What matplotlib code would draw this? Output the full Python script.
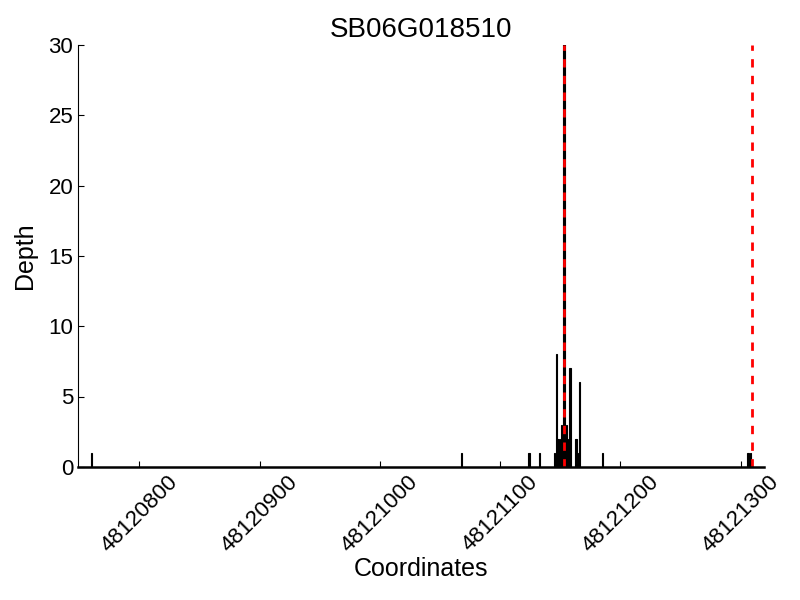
import matplotlib
matplotlib.use("Agg")
import matplotlib.pyplot as plt

gene = "SB06G018510"

positions = [48120760, 48121068, 48121124, 48121133, 48121145, 48121147,
             48121148, 48121150, 48121151, 48121153, 48121155, 48121156,
             48121158, 48121163, 48121164, 48121166, 48121185, 48121306,
             48121308]
depths = [1, 1, 1, 1, 1, 8, 2, 2, 3, 40, 3, 2, 7, 2, 1, 6, 1, 1, 1]

marks = [48121153, 48121309]
xlim = (48120749, 48121319)
ylim = (0, 30)

plt.rcParams['font.family'] = ['Liberation Sans', 'DejaVu Sans']

fig = plt.figure(figsize=(8, 6), dpi=100)
ax = fig.add_axes([0.0975, 0.222, 0.857, 0.703])

ax.bar(positions, depths, width=1, color='k', edgecolor='k', linewidth=0.8)
for m in marks:
    ax.axvline(m, color='red', linestyle='--', linewidth=2, dashes=(3, 3))

ax.set_xlim(*xlim)
ax.set_ylim(*ylim)
ax.set_yticks(range(0, 31, 5))
ax.set_xticks([48120800, 48120900, 48121000, 48121100, 48121200, 48121300])
ax.get_xaxis().get_major_formatter().set_useOffset(False)
ax.get_xaxis().get_major_formatter().set_scientific(False)

ax.spines['top'].set_visible(False)
ax.spines['right'].set_visible(False)
ax.spines['bottom'].set_linewidth(1.8)
ax.tick_params(direction='in', length=4, labelsize=16, top=False, right=False)
plt.setp(ax.get_xticklabels(), rotation=45)

ax.set_xlabel('Coordinates', fontsize=18, labelpad=0)
ax.set_ylabel('Depth', fontsize=18, labelpad=8)
ax.set_title(gene, fontsize=20)

fig.savefig('out.png', dpi=100)
